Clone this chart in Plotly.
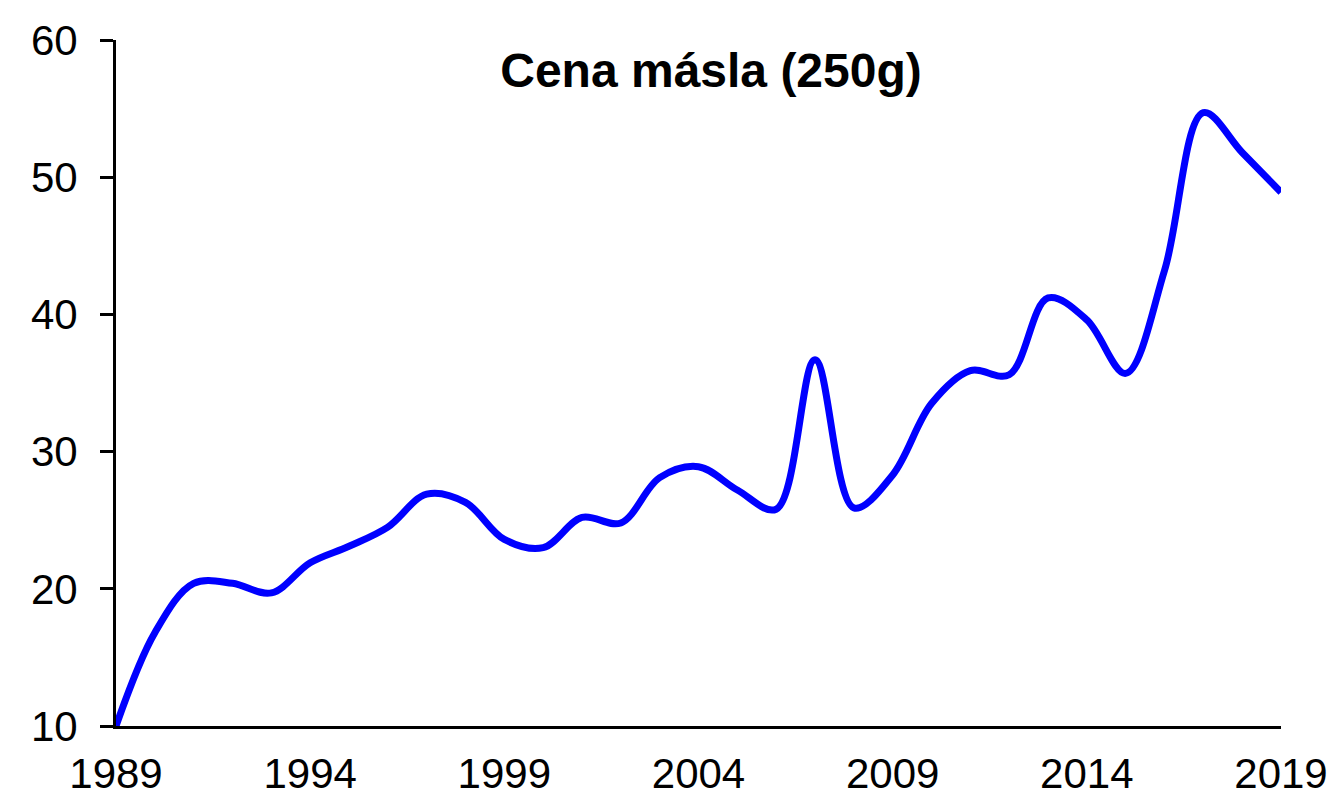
import plotly.graph_objects as go

# yearly butter price (250 g)
years = list(range(1989, 2020))
prices = [10.0, 16.8, 20.4, 20.4, 19.7, 21.9, 23.1, 24.5, 26.9, 26.3,
          23.6, 23.0, 25.2, 24.8, 28.1, 28.9, 27.2, 25.8, 36.7, 25.9,
          28.3, 33.5, 35.9, 35.6, 41.2, 39.6, 35.7, 43.2, 54.7, 51.8, 48.9]
x_ticks = [1989, 1994, 1999, 2004, 2009, 2014, 2019]
y_ticks = [10, 20, 30, 40, 50, 60]

fig = go.Figure()
fig.add_trace(go.Scatter(x=years, y=prices, mode="lines",
                         line=dict(color="#0000ff", width=7, shape="spline", smoothing=1),
                         cliponaxis=False))

fig.update_layout(
    width=1332, height=793,
    margin=dict(l=116, r=51, t=40, b=67),
    paper_bgcolor="white", plot_bgcolor="white",
    font=dict(family="Liberation Sans, Arial, sans-serif", size=42, color="black"),
    showlegend=False,
    title=dict(text="<b>Cena másla (250g)</b>", font=dict(size=48),
               x=711 / 1332, xref="container", xanchor="center",
               y=1 - 70 / 793, yref="container", yanchor="middle"),
)
fig.update_xaxes(range=[1989, 2019], tickvals=x_ticks, showgrid=False, zeroline=False,
                 showline=True, linecolor="black", linewidth=3, ticks="",
                 ticklabelstandoff=9, automargin=False)
fig.update_yaxes(range=[10, 60], tickvals=y_ticks, showgrid=False, zeroline=False,
                 showline=True, linecolor="black", linewidth=3,
                 ticks="outside", ticklen=13, tickwidth=3, tickcolor="black",
                 ticklabelstandoff=14, automargin=False)

# page margin off so the figure sits at the window corner
fig.write_html("out.html", config={"displayModeBar": False},
               post_script="document.body.style.margin='0';")
